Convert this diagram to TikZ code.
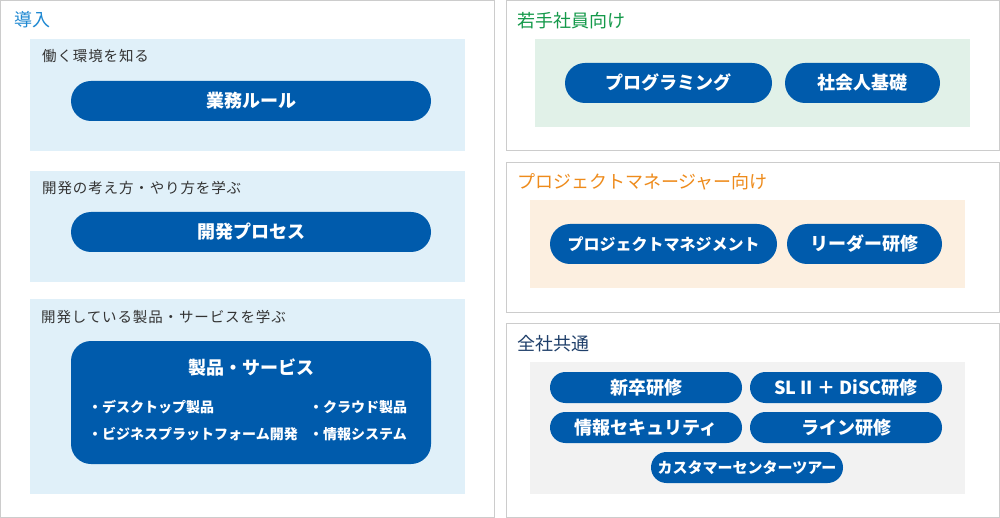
\documentclass[tikz,border=0pt]{standalone}
\usepackage{fontspec}
\setmainfont{Noto Sans CJK JP}
\newfontfamily\labelfont[LetterSpace=6]{Noto Sans CJK JP}
\usetikzlibrary{positioning}
\definecolor{pillblue}{HTML}{005BAC}
\definecolor{lightblue}{HTML}{E0F0F9}
\definecolor{lightgreen}{HTML}{E1F1E8}
\definecolor{lightorange}{HTML}{FCEFE0}
\definecolor{lightgray}{HTML}{F2F2F2}
\definecolor{bordergray}{HTML}{CCCCCC}
\definecolor{titleblue}{HTML}{1E88D2}
\definecolor{titlegreen}{HTML}{14994A}
\definecolor{titleorange}{HTML}{EE8B1B}
\definecolor{titlenavy}{HTML}{1F3F6A}
\definecolor{labelgray}{HTML}{333333}
\tikzset{
  outerbox/.style={draw=bordergray, line width=1pt, fill=white},
  sectitle/.style={anchor=west, inner sep=0pt, font=\fontsize{18}{20}\selectfont},
  sublabel/.style={anchor=west, inner sep=0pt, text=labelgray, font=\labelfont\fontsize{14.5}{16}\selectfont},
  pill/.style={fill=pillblue, text=white, rounded corners=20pt, minimum height=40pt, inner sep=0pt, font=\bfseries\fontsize{18}{20}\selectfont},
  smallpill/.style={fill=pillblue, text=white, rounded corners=15.5pt, minimum height=31pt, minimum width=192pt, inner sep=0pt, font=\bfseries\fontsize{18}{20}\selectfont},
  item/.style={anchor=west, inner sep=0pt, text=white, font=\bfseries\fontsize{14}{16}\selectfont}
}
\begin{document}
\begin{tikzpicture}[x=1pt,y=-1pt]
\useasboundingbox (0,0) rectangle (1000,518);
% left outer box
\draw[outerbox] (0.5,0.5) rectangle (494,517.5);
\node[sectitle, text=titleblue] (tIntro) at (14,20) {導入};
\fill[lightblue] (30,39) rectangle (465,151);
\fill[lightblue] (30,171) rectangle (465,282);
\fill[lightblue] (30,299) rectangle (465,494);
\node[sublabel] (l1) at (42,56) {働く環境を知る};
\node[sublabel] (l2) at (42,188) {開発の考え方・やり方を学ぶ};
\node[sublabel] (l3) at (41,317) {開発している製品・サービスを学ぶ};
\node[pill, minimum width=360pt] (p1) at (251,101) {業務ルール};
\node[pill, minimum width=360pt] (p2) at (251,232) {開発プロセス};
\node[fill=pillblue, rounded corners=20pt, minimum width=360pt, minimum height=123pt, inner sep=0pt] (prod) at (251,402.5) {};
\node[inner sep=0pt, text=white, font=\bfseries\fontsize{18}{20}\selectfont] (prodT) at (251,368) {製品・サービス};
\node[item] (i1) at (88,407) {・デスクトップ製品};
\node[item] (i2) at (88,434) {・ビジネスプラットフォーム開発};
\node[item] (i3) at (309,407) {・クラウド製品};
\node[item] (i4) at (309,434) {・情報システム};
% right top
\draw[outerbox] (506,1) rectangle (999,151);
\node[sectitle, text=titlegreen] (tYoung) at (517,21) {若手社員向け};
\fill[lightgreen] (535,39) rectangle (970,127);
\node[pill, minimum width=207pt] (r1) at (668.5,83) {プログラミング};
\node[pill, minimum width=155pt] (r2) at (862.5,83) {社会人基礎};
% right middle
\draw[outerbox] (506,162.5) rectangle (999,312);
\node[sectitle, text=titleorange] (tPM) at (517,182) {プロジェクトマネージャー向け};
\fill[lightorange] (530,200) rectangle (965,288);
\node[pill, minimum width=227pt, font=\bfseries\fontsize{16}{18}\selectfont] (r3) at (663.5,244) {プロジェクトマネジメント};
\node[pill, minimum width=155pt] (r4) at (864.5,244) {リーダー研修};
% right bottom
\draw[outerbox] (506,323.5) rectangle (999,517.5);
\node[sectitle, text=titlenavy] (tAll) at (517,344) {全社共通};
\fill[lightgray] (530,362) rectangle (965,494);
\node[smallpill] (s1) at (646,387.5) {新卒研修};
\node[smallpill] (s2) at (846,387.5) {SL II ＋ DiSC研修};
\node[smallpill] (s3) at (646,427.5) {情報セキュリティ};
\node[smallpill] (s4) at (846,427.5) {ライン研修};
\node[smallpill, font=\bfseries\fontsize{15}{17}\selectfont] (s5) at (747,467.5) {カスタマーセンターツアー};
\end{tikzpicture}
\end{document}
